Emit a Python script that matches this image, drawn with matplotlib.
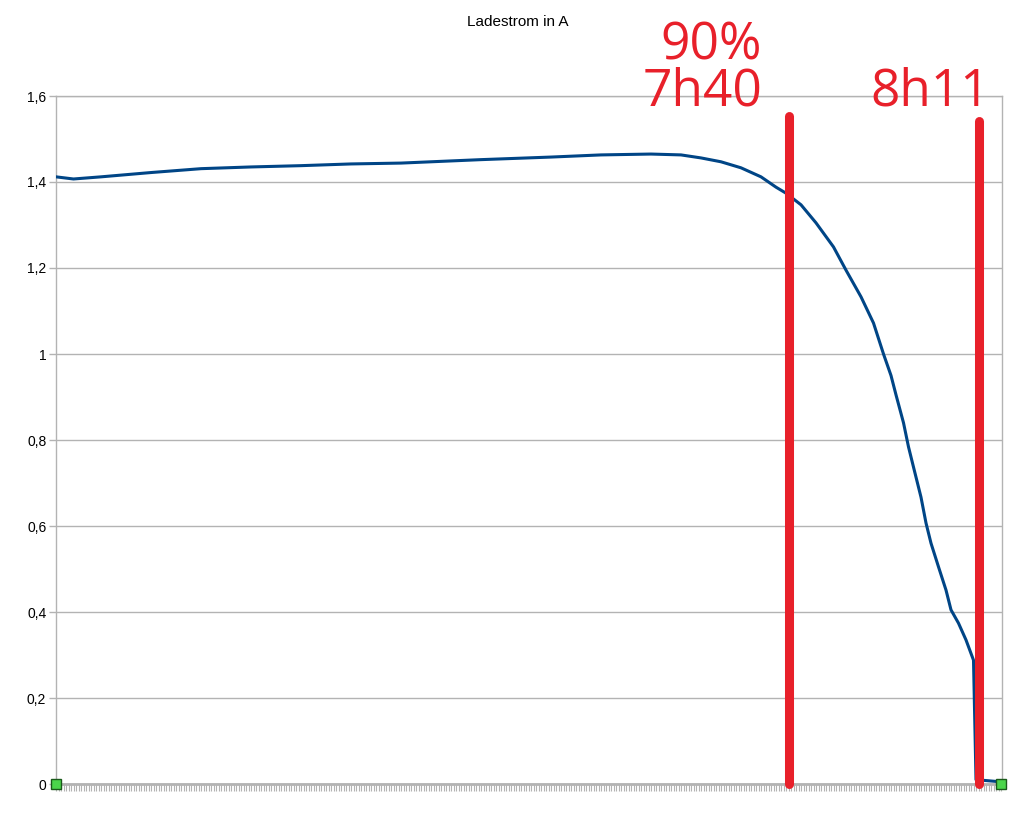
import matplotlib
matplotlib.use('Agg')
import matplotlib.pyplot as plt
import numpy as np

# Ladestrom ueber Messpunkte
sample = [0, 7, 18, 38, 58, 78, 98, 118, 138, 170, 198, 218, 238, 250,
          258, 266, 274, 282, 288, 292, 298, 304, 311, 316, 322, 327, 331,
          334, 336, 339, 341, 343, 346, 348, 350, 353, 356, 358, 361, 364,
          367, 368, 378]
strom = [1.412, 1.407, 1.412, 1.422, 1.431, 1.435, 1.438, 1.442, 1.444, 1.452,
         1.458, 1.463, 1.465, 1.463,
         1.456, 1.447, 1.433, 1.412, 1.388, 1.374, 1.347, 1.305, 1.249, 1.195,
         1.133, 1.072, 1.000, 0.950, 0.905, 0.840, 0.784, 0.737, 0.667, 0.607,
         0.560, 0.505, 0.451, 0.405, 0.374, 0.335, 0.288, 0.010, 0.005]

marker_x = [0, 378]
marker_y = [0, 0]

# Markierungen (Messpunkt, Oberkante)
mark_x = [293, 369]
mark_top = [1.553, 1.542]

fig = plt.figure(figsize=(10.22, 8.16), dpi=100)
ax = fig.add_axes([56 / 1022, 1 - 784 / 816, 946 / 1022, 688 / 816])

grey = '#b3b3b3'
ax.set_ylim(0, 1.6)
ax.set_xlim(0, 378.4)
ax.set_yticks(np.arange(0, 1.61, 0.2))
ax.set_yticklabels(['0', '0,2', '0,4', '0,6', '0,8', '1', '1,2', '1,4', '1,6'],
                   fontsize=10, family='Liberation Sans')
ax.set_xticks(np.arange(0, 379, 1))
ax.set_xticklabels([])
ax.tick_params(axis='x', length=5, width=0.8, color=grey)
ax.tick_params(axis='y', length=5, width=1, color=grey, pad=2)
ax.grid(axis='y', color=grey, linewidth=1)
ax.set_axisbelow(True)
for s in ax.spines.values():
    s.set_color(grey)
    s.set_linewidth(1)
ax.spines['bottom'].set_linewidth(2)

ax.plot(sample, strom, color='#004586', linewidth=2.2, zorder=3)
ax.plot(marker_x, marker_y, linestyle='none', marker='s', markersize=7,
        markerfacecolor='#4bd64b', markeredgecolor='#1a5a1a', clip_on=False, zorder=5)

ax.vlines(mark_x, [0, 0], mark_top, colors='#e8202a', linewidth=6.5,
          capstyle='round', clip_on=False, zorder=4)

fig.text(518 / 1022, 1 - 22 / 816, 'Ladestrom in A', ha='center', va='center',
         fontsize=11, family='Liberation Sans')

red = '#e8202a'
fig.text(762 / 1022, 1 - 60 / 816, '90%', ha='right', va='baseline',
         fontsize=37, color=red, family='Open Sans')
fig.text(762 / 1022, 1 - 106 / 816, '7h40', ha='right', va='baseline',
         fontsize=37, color=red, family='Open Sans')
fig.text(990 / 1022, 1 - 106 / 816, '8h11', ha='right', va='baseline',
         fontsize=37, color=red, family='Open Sans')

fig.savefig('out.png', dpi=100)
